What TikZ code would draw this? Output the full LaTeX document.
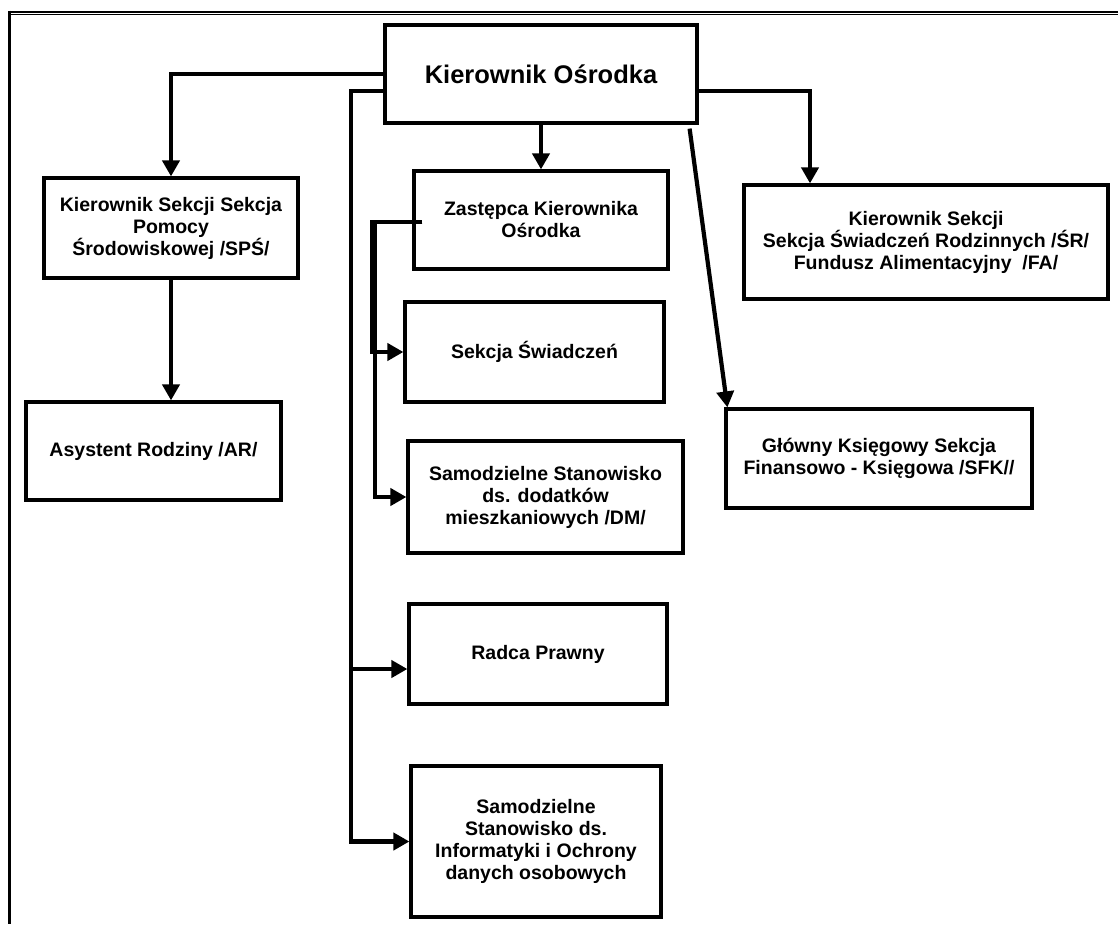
\documentclass[tikz,border=0pt]{standalone}
\usepackage{fontspec}
\setmainfont{Liberation Sans}
\usetikzlibrary{arrows.meta}
\usetikzlibrary{positioning}
\tikzset{
    every picture/.style={x=1pt,y=-1pt},
    box/.style={draw, line width=3.2pt, align=center, inner sep=2pt,
          font=\fontsize{19.5}{22}\selectfont\bfseries},
    title/.style={font=\fontsize{25.5}{28}\selectfont\bfseries},
    conn/.style={line width=4.2pt, -{Triangle[length=16pt,width=17pt]}},
    %conn/.style={very thick,->},
}

\begin{document}
\begin{tikzpicture}
    \useasboundingbox (0,0) rectangle (1118,924);
    % page frame
    \draw[line width=2.8pt] (8,12) -- (1118,12);
    \draw[line width=1.2pt] (11,14.8) -- (1118,14.8);
    \draw[line width=3.4pt] (9.5,10.6) -- (9.5,924);

    \node[box, title, minimum width=312pt, minimum height=98pt] (ko) at (541,74) {Kierownik Ośrodka};
    \node[box, minimum width=254pt, minimum height=100pt] (sps) at (171,228)
        {Kierownik Sekcji Sekcja\\Pomocy\\Środowiskowej /SPŚ/};
    \node[box, minimum width=255pt, minimum height=98pt] (ar) at (153.5,451) {Asystent Rodziny /AR/};
    \node[box, minimum width=254pt, minimum height=98pt] (zk) at (541,220) {Zastępca Kierownika\\Ośrodka};
    \node[box, minimum width=259pt, minimum height=100pt] (ssw) at (534.5,352) {Sekcja Świadczeń};
    \node[box, minimum width=275pt, minimum height=112pt] (dm) at (545.5,497)
        {Samodzielne Stanowisko\\ds. dodatków\\mieszkaniowych /DM/};
    \node[box, minimum width=258pt, minimum height=100pt] (rp) at (538,654) {Radca Prawny};
    \node[box, minimum width=250pt, minimum height=151pt] (inf) at (536,841.5)
        {Samodzielne\\Stanowisko ds.\\Informatyki i Ochrony\\danych osobowych};
    \node[box, minimum width=364pt, minimum height=114pt] (sr) at (926,242)
        {Kierownik Sekcji\\Sekcja Świadczeń Rodzinnych /ŚR/\\Fundusz Alimentacyjny~ /FA/};
    \node[box, minimum width=306pt, minimum height=99pt] (sfk) at (879,458.5)
        {Główny Księgowy Sekcja\\Finansowo - Księgowa /SFK//};

    \coordinate (trunk) at (351,0);
    \coordinate (sub) at (372,0);
    \coordinate (subb) at (375,0);
    \coordinate (kol) at ([yshift=-17pt]ko.west);
    \coordinate (zkl) at ([xshift=10pt,yshift=-2pt]zk.west);

    \draw[conn] (ko.west) -| (sps.north);
    \draw[conn] (sps.south) -- (sps.south |- ar.north);
    \draw[conn] (ko.south) -- (zk.north);
    \draw[conn] ([yshift=-17pt]ko.east) -| ([xshift=-116pt]sr.north);
    \draw[conn] ([shift={(-9pt,-4pt)}]ko.south east) -- ([xshift=3pt]sfk.north west);
    \draw[conn] (kol) -- (kol -| trunk) |- ([yshift=-15pt]rp.west);
    \draw[conn] (kol) -- (kol -| trunk) |- (inf.west);
    \draw[conn] (zkl) -- (zkl -| sub) |- (ssw.west);
    \draw[conn] (zkl) -- (zkl -| subb) |- (dm.west);
\end{tikzpicture}
\end{document}
